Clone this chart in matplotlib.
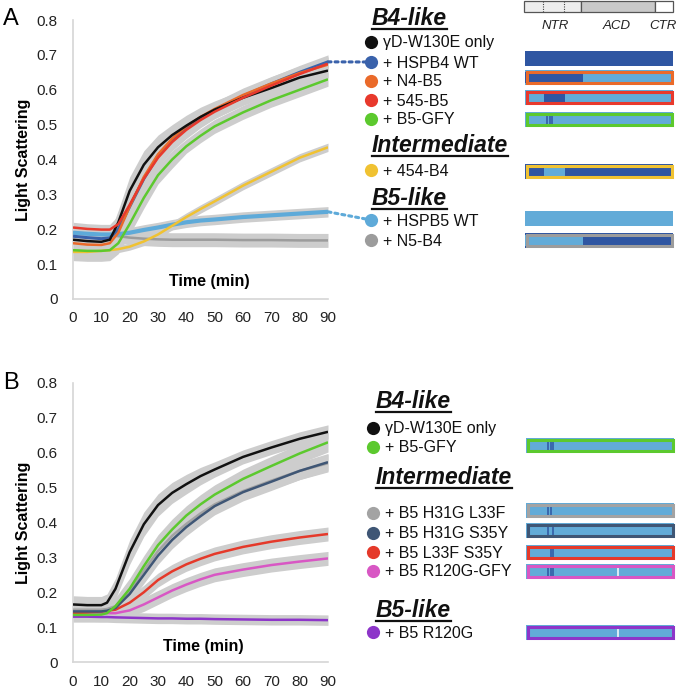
import matplotlib.pyplot as plt
from matplotlib.patches import Rectangle, ConnectionPatch

plt.rcParams['font.family'] = ['Liberation Sans', 'DejaVu Sans']

#%% Panel A data
time_a = [0, 5, 10, 13, 16, 20, 25, 30, 35, 40, 45, 50, 60, 70, 80, 90]

a_only   = [0.170, 0.166, 0.164, 0.170, 0.220, 0.310, 0.385, 0.435, 0.470, 0.497, 0.522, 0.543, 0.577, 0.605, 0.635, 0.655]
a_hspb4  = [0.180, 0.176, 0.173, 0.175, 0.200, 0.265, 0.345, 0.410, 0.455, 0.490, 0.518, 0.542, 0.582, 0.617, 0.650, 0.680]
a_n4b5   = [0.160, 0.156, 0.155, 0.160, 0.190, 0.265, 0.350, 0.415, 0.460, 0.495, 0.522, 0.545, 0.585, 0.618, 0.648, 0.672]
a_545b5  = [0.205, 0.201, 0.199, 0.199, 0.215, 0.270, 0.345, 0.405, 0.450, 0.485, 0.513, 0.537, 0.577, 0.612, 0.645, 0.675]
a_gfy    = [0.140, 0.138, 0.138, 0.140, 0.160, 0.215, 0.290, 0.355, 0.400, 0.438, 0.468, 0.495, 0.535, 0.570, 0.600, 0.630]
a_454b4  = [0.135, 0.135, 0.138, 0.140, 0.143, 0.150, 0.165, 0.185, 0.210, 0.235, 0.258, 0.280, 0.325, 0.365, 0.405, 0.435]
a_hspb5  = [0.190, 0.187, 0.185, 0.185, 0.186, 0.190, 0.198, 0.205, 0.213, 0.220, 0.225, 0.228, 0.235, 0.240, 0.245, 0.250]
a_n5b4   = [0.190, 0.188, 0.185, 0.183, 0.180, 0.176, 0.173, 0.171, 0.170, 0.170, 0.170, 0.170, 0.169, 0.169, 0.168, 0.168]

# error (sd) per series
a_only_sd  = [0.015, 0.015, 0.015, 0.020, 0.035, 0.040, 0.040, 0.035, 0.030, 0.030, 0.028, 0.025, 0.022, 0.020, 0.020, 0.020]
a_hspb4_sd = [0.012, 0.012, 0.012, 0.015, 0.025, 0.030, 0.030, 0.028, 0.025, 0.025, 0.022, 0.020, 0.020, 0.020, 0.020, 0.020]
a_n4b5_sd  = [0.012, 0.012, 0.012, 0.015, 0.025, 0.030, 0.030, 0.028, 0.025, 0.025, 0.022, 0.020, 0.020, 0.020, 0.020, 0.020]
a_545b5_sd = [0.015, 0.015, 0.015, 0.015, 0.025, 0.030, 0.030, 0.028, 0.025, 0.025, 0.022, 0.020, 0.020, 0.020, 0.020, 0.020]
a_gfy_sd   = [0.030, 0.030, 0.030, 0.030, 0.030, 0.030, 0.030, 0.025, 0.025, 0.020, 0.020, 0.020, 0.020, 0.020, 0.020, 0.020]
a_454b4_sd = [0.010, 0.010, 0.010, 0.010, 0.010, 0.010, 0.012, 0.012, 0.012, 0.012, 0.012, 0.012, 0.012, 0.012, 0.012, 0.012]
a_hspb5_sd = [0.015, 0.015, 0.015, 0.015, 0.015, 0.015, 0.015, 0.015, 0.015, 0.015, 0.015, 0.015, 0.015, 0.015, 0.015, 0.015]
a_n5b4_sd  = [0.020, 0.020, 0.020, 0.020, 0.020, 0.020, 0.020, 0.020, 0.020, 0.020, 0.020, 0.020, 0.020, 0.020, 0.020, 0.020]

#%% Panel B data
time_b = [0, 5, 10, 12, 15, 20, 25, 30, 35, 40, 45, 50, 60, 70, 80, 90]

b_only   = [0.165, 0.163, 0.163, 0.170, 0.210, 0.315, 0.395, 0.450, 0.485, 0.510, 0.533, 0.552, 0.588, 0.615, 0.640, 0.660]
b_gfy    = [0.135, 0.135, 0.136, 0.140, 0.160, 0.210, 0.275, 0.335, 0.380, 0.420, 0.452, 0.480, 0.525, 0.562, 0.598, 0.630]
b_hg_lf  = [0.150, 0.150, 0.150, 0.152, 0.160, 0.205, 0.262, 0.318, 0.362, 0.396, 0.426, 0.452, 0.490, 0.520, 0.548, 0.570]
b_hg_sy  = [0.145, 0.145, 0.145, 0.147, 0.155, 0.195, 0.250, 0.305, 0.350, 0.387, 0.418, 0.447, 0.487, 0.517, 0.548, 0.573]
b_lf_sy  = [0.140, 0.142, 0.145, 0.147, 0.150, 0.170, 0.200, 0.235, 0.260, 0.280, 0.296, 0.310, 0.330, 0.345, 0.357, 0.367]
b_rg_gfy = [0.140, 0.140, 0.140, 0.140, 0.140, 0.148, 0.165, 0.185, 0.205, 0.222, 0.237, 0.250, 0.265, 0.278, 0.288, 0.297]
b_rg     = [0.130, 0.130, 0.129, 0.129, 0.128, 0.127, 0.126, 0.125, 0.125, 0.124, 0.124, 0.123, 0.122, 0.121, 0.121, 0.120]

b_only_sd   = [0.025, 0.025, 0.025, 0.025, 0.030, 0.035, 0.035, 0.032, 0.030, 0.028, 0.025, 0.022, 0.020, 0.020, 0.020, 0.020]
b_gfy_sd    = [0.020, 0.020, 0.020, 0.020, 0.025, 0.030, 0.030, 0.030, 0.030, 0.028, 0.028, 0.028, 0.028, 0.028, 0.028, 0.028]
b_hg_lf_sd  = [0.020, 0.020, 0.020, 0.020, 0.022, 0.025, 0.025, 0.025, 0.025, 0.025, 0.025, 0.025, 0.025, 0.025, 0.025, 0.025]
b_hg_sy_sd  = [0.020, 0.020, 0.020, 0.020, 0.022, 0.025, 0.025, 0.025, 0.025, 0.025, 0.025, 0.025, 0.025, 0.025, 0.025, 0.025]
b_lf_sy_sd  = [0.015, 0.015, 0.015, 0.015, 0.015, 0.018, 0.020, 0.020, 0.020, 0.020, 0.020, 0.020, 0.020, 0.020, 0.020, 0.020]
b_rg_gfy_sd = [0.015, 0.015, 0.015, 0.015, 0.015, 0.018, 0.020, 0.020, 0.020, 0.020, 0.020, 0.020, 0.020, 0.020, 0.020, 0.020]
b_rg_sd     = [0.015, 0.015, 0.015, 0.015, 0.015, 0.015, 0.015, 0.015, 0.015, 0.015, 0.015, 0.015, 0.015, 0.015, 0.015, 0.015]

# colours
c_black = '#111111'
c_hspb4 = '#3a62ab'
c_n4b5 = '#ea6a2a'
c_545b5 = '#e8392c'
c_gfy = '#5cc92e'
c_454b4 = '#f0c232'
c_hspb5 = '#5eaad9'
c_n5b4 = '#9c9c9c'
c_hg_lf = '#a3a3a3'
c_hg_sy = '#3f5675'
c_lf_sy = '#e5392a'
c_rg_gfy = '#d857c4'
c_rg = '#8d35c9'
DARK = '#2f56a2'
LIGHT = '#62abd8'
BAND = '#cdcdcd'

y_ticks = [0, 0.1, 0.2, 0.3, 0.4, 0.5, 0.6, 0.7, 0.8]
y_ticklabels = ['0', '0.1', '0.2', '0.3', '0.4', '0.5', '0.6', '0.7', '0.8']
x_ticks = [0, 10, 20, 30, 40, 50, 60, 70, 80, 90]

#%% Figure
W, H = 679, 687
fig = plt.figure(figsize=(W / 100, H / 100), dpi=100)


def px_axes(x0, y0, x1, y1):
    return fig.add_axes([x0 / W, 1 - y1 / H, (x1 - x0) / W, (y1 - y0) / H])


def draw_panel(ax, t, series, time_pos):
    for vals, sd, col, lw in series:
        lo = [v - s for v, s in zip(vals, sd)]
        hi = [v + s for v, s in zip(vals, sd)]
        ax.fill_between(t, lo, hi, color=BAND, lw=0, zorder=1)
    for vals, sd, col, lw in series:
        ax.plot(t, vals, color=col, lw=lw, zorder=3, solid_capstyle='butt')
    ax.set_xlim(0, 90)
    ax.set_ylim(0, 0.8)
    ax.set_yticks(y_ticks)
    ax.set_yticklabels(y_ticklabels)
    ax.set_xticks(x_ticks)
    for s in ['top', 'right']:
        ax.spines[s].set_visible(False)
    for s in ['left', 'bottom']:
        ax.spines[s].set_color('#d6d6d6')
        ax.spines[s].set_linewidth(1.2)
    ax.tick_params(length=0, labelsize=11, colors='#222222')
    ax.tick_params(axis='y', pad=11)
    ax.tick_params(axis='x', pad=9)
    ax.set_ylabel('Light Scattering', fontsize=11.5, fontweight='bold')
    ax.yaxis.set_label_coords(-0.163, 0.5)
    ax.text(time_pos[0], time_pos[1], 'Time (min)', fontsize=11.5, fontweight='bold',
            ha='center', va='center')


ax_a = px_axes(73, 20, 328, 299)
ax_b = px_axes(73, 383, 328, 662)

draw_panel(ax_a, time_a, [
    (a_n5b4, a_n5b4_sd, c_n5b4, 1.8),
    (a_hspb5, a_hspb5_sd, c_hspb5, 3.0),
    (a_454b4, a_454b4_sd, c_454b4, 1.8),
    (a_gfy, a_gfy_sd, c_gfy, 1.8),
    (a_hspb4, a_hspb4_sd, c_hspb4, 2.2),
    (a_n4b5, a_n4b5_sd, c_n4b5, 1.8),
    (a_only, a_only_sd, c_black, 1.8),
    (a_545b5, a_545b5_sd, c_545b5, 1.8),
], (48, 0.05))

draw_panel(ax_b, time_b, [
    (b_rg, b_rg_sd, c_rg, 1.8),
    (b_rg_gfy, b_rg_gfy_sd, c_rg_gfy, 1.8),
    (b_lf_sy, b_lf_sy_sd, c_lf_sy, 1.8),
    (b_hg_lf, b_hg_lf_sd, c_hg_lf, 1.8),
    (b_hg_sy, b_hg_sy_sd, c_hg_sy, 1.8),
    (b_gfy, b_gfy_sd, c_gfy, 1.8),
    (b_only, b_only_sd, c_black, 1.8),
], (46, 0.045))

# overlay in pixel coordinates for labels, legends and domain sketches
ov = fig.add_axes([0, 0, 1, 1])
ov.set_xlim(0, W)
ov.set_ylim(H, 0)
ov.axis('off')

ov.text(3, 25, 'A', fontsize=17, va='baseline')
ov.text(3, 389, 'B', fontsize=17, va='baseline')

headings = []


def heading(x, y, txt):
    headings.append(ov.text(x, y, txt, fontsize=16.5, fontweight='bold', style='italic',
                            va='baseline', color='#111111'))


def row(xc, y, col, txt):
    ov.plot(xc, y, 'o', ms=9.5, color=col, mec='none')
    ov.text(xc + 12, y + 5.5, txt, fontsize=11.5, va='baseline', color='#111111')


def bar(y0, base, segs=(), marks=(), cuts=(), edge=None, x0=525, w=148, h=14.5):
    ov.add_patch(Rectangle((x0, y0), w, h, facecolor=base, edgecolor='none', zorder=2))
    for s0, s1, c in segs:
        ov.add_patch(Rectangle((x0 + s0 * w, y0 + 2), (s1 - s0) * w, h - 4, facecolor=c,
                               edgecolor='none', zorder=2.1))
    for m in marks:
        ov.plot([x0 + m * w] * 2, [y0 + 2.5, y0 + h - 2.5], color=DARK, lw=1.1, zorder=2.2)
    for m in cuts:
        ov.plot([x0 + m * w] * 2, [y0 + 2.5, y0 + h - 2.5], color='white', lw=1.1, zorder=2.2)
    if edge:
        ov.add_patch(Rectangle((x0 + 1.5, y0 + 1.5), w - 3, h - 3, facecolor='none',
                               edgecolor=edge, lw=2.2, zorder=3))


# domain header
ov.add_patch(Rectangle((524, 1), 57, 11, facecolor='#ededed', edgecolor='#555555', lw=0.9))
ov.add_patch(Rectangle((581, 1), 74, 11, facecolor='#c9c9c9', edgecolor='#555555', lw=0.9))
ov.add_patch(Rectangle((655, 1), 18, 11, facecolor='white', edgecolor='#555555', lw=0.9))
for xd in [543, 564]:
    ov.plot([xd, xd], [1, 12], color='#444444', lw=0.8, ls=(0, (1, 1.2)))
for xl, lab in [(555, 'NTR'), (617, 'ACD'), (663, 'CTR')]:
    ov.text(xl, 29, lab, fontsize=9.5, style='italic', ha='center', va='baseline', color='#222222')

NTR_END = 0.39
SUB = (0.125, 0.27)
MUT = [0.151, 0.167, 0.185]
R120 = 0.62

# panel A legend
heading(372, 25, 'B4-like')
row(371, 42, c_black, 'γD-W130E only')
row(371, 62, c_hspb4, '+ HSPB4 WT')
row(371, 81, c_n4b5, '+ N4-B5')
row(371, 100, c_545b5, '+ 545-B5')
row(371, 119, c_gfy, '+ B5-GFY')
heading(372, 152, 'Intermediate')
row(371, 170, c_454b4, '+ 454-B4')
heading(372, 205, 'B5-like')
row(371, 220, c_hspb5, '+ HSPB5 WT')
row(371, 240, c_n5b4, '+ N5-B4')

bar(51, DARK)
bar(70, LIGHT, segs=[(0, NTR_END, DARK)], edge=c_n4b5)
bar(90, LIGHT, segs=[(SUB[0], SUB[1], DARK)], edge=c_545b5)
bar(112, LIGHT, marks=MUT, edge=c_gfy)
bar(164, DARK, segs=[(SUB[0], SUB[1], LIGHT)], edge=c_454b4)
bar(211, LIGHT)
bar(233, DARK, segs=[(0, NTR_END, LIGHT)], edge=c_n5b4)

# panel B legend
heading(376, 408, 'B4-like')
row(373, 428, c_black, 'γD-W130E only')
row(373, 447, c_gfy, '+ B5-GFY')
heading(376, 484, 'Intermediate')
row(373, 513, c_hg_lf, '+ B5 H31G L33F')
row(373, 533, c_hg_sy, '+ B5 H31G S35Y')
row(373, 552, c_lf_sy, '+ B5 L33F S35Y')
row(373, 571, c_rg_gfy, '+ B5 R120G-GFY')
heading(376, 617, 'B5-like')
row(373, 632, c_rg, '+ B5 R120G')

bar(438, LIGHT, marks=MUT, edge=c_gfy, x0=526)
bar(503, LIGHT, marks=MUT[:2], edge=c_hg_lf, x0=526)
bar(523, LIGHT, marks=[MUT[0], MUT[2]], edge=c_hg_sy, x0=526)
bar(545, LIGHT, marks=MUT[1:], edge=c_lf_sy, x0=526)
bar(564, LIGHT, marks=MUT, cuts=[R120], edge=c_rg_gfy, x0=526)
bar(625, LIGHT, cuts=[R120], edge=c_rg, x0=526)

# dotted connectors from the curves to their legend dots
for yv, col, yc in [(a_hspb4[-1], c_hspb4, 62), (a_hspb5[-1], c_hspb5, 220)]:
    fig.add_artist(ConnectionPatch(xyA=(90, yv), coordsA=ax_a.transData, xyB=(371, yc),
                                   coordsB=ov.transData, color=col, lw=2.2, ls=(0, (1, 1.3))))

# underline the group headings
fig.canvas.draw()
inv = ov.transData.inverted()
for t in headings:
    bb = t.get_window_extent()
    (xa, _), (xb, _) = inv.transform([[bb.x0, bb.y0], [bb.x1, bb.y0]])
    yb = t.get_position()[1] + 4
    ov.plot([xa, xb], [yb, yb], color='#111111', lw=1.6)

fig.savefig('out.png', dpi=100)
